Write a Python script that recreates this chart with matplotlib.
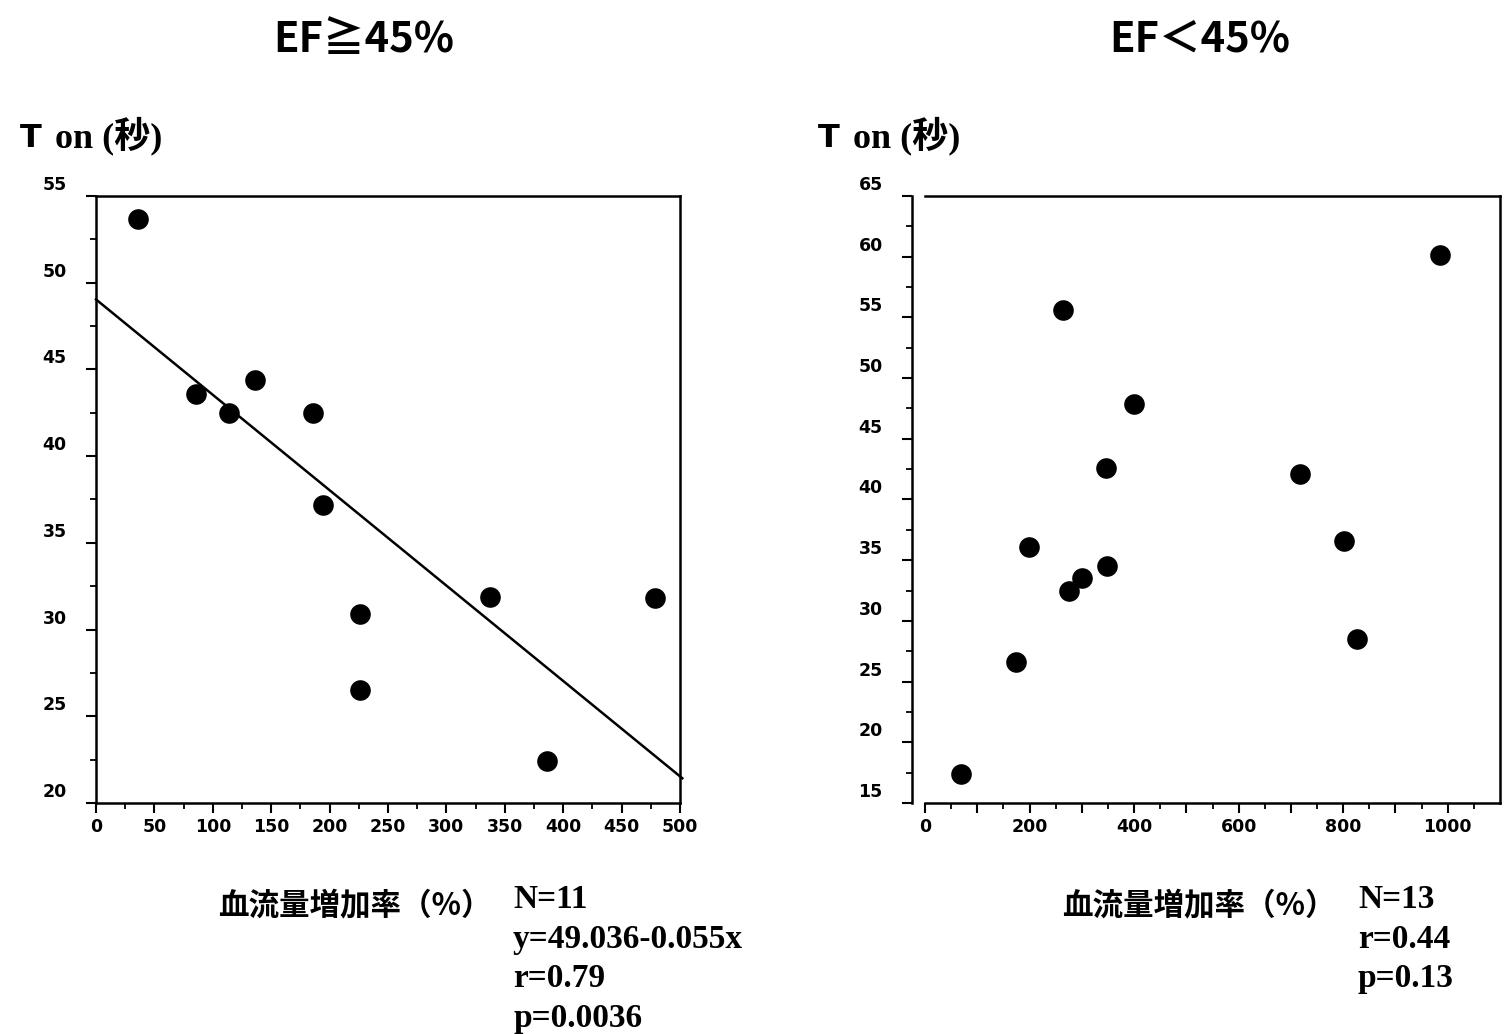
import matplotlib
matplotlib.use('Agg')
import matplotlib.pyplot as plt
import matplotlib.transforms as mtransforms
from matplotlib.ticker import FixedLocator

# ---- data ----
left_x = [36, 86, 114, 136, 186, 194, 226, 226, 337, 386, 479]
left_y = [53.7, 43.6, 42.5, 44.4, 42.5, 37.2, 30.9, 26.5, 31.9, 22.4, 31.8]
fit_intercept = 49.036
fit_slope = -0.055

right_x = [69, 174, 198, 264, 275, 300, 347, 348, 400, 717, 802, 827, 985]
right_y = [17.4, 26.6, 36.1, 55.6, 32.5, 33.5, 42.6, 34.5, 47.9, 42.1, 36.6, 28.5, 60.1]

left_xticks = [0, 50, 100, 150, 200, 250, 300, 350, 400, 450, 500]
left_yticks = [20, 25, 30, 35, 40, 45, 50, 55]
right_xticks = [0, 100, 200, 300, 400, 500, 600, 700, 800, 900, 1000]
right_yticks = [15, 20, 25, 30, 35, 40, 45, 50, 55, 60, 65]

titles = ['EF≧45%', 'EF＜45%']
ylabel_t = 'T'
ylabel_rest = 'on (秒)'
xlabel = '血流量増加率（%）'
stats_left = 'N=11\ny=49.036-0.055x\nr=0.79\np=0.0036'
stats_right = 'N=13\nr=0.44\np=0.13'

W, H = 1508, 1034
fig = plt.figure(figsize=(W / 100, H / 100), dpi=100)
fig.patch.set_facecolor('white')

tick_font = dict(family=['Liberation Sans Narrow', 'DejaVu Sans'], weight='bold', size=12.5)
cjk = ['Noto Sans CJK JP', 'DejaVu Sans']
serif = ['Liberation Serif', 'Noto Sans CJK JP', 'DejaVu Sans']


def fx(px):
    return px / W


def fy(py):
    return 1 - py / H


def style_axes(ax):
    for s in ax.spines.values():
        s.set_linewidth(1.8)
        s.set_color('black')
    ax.tick_params(which='major', direction='out', length=7, width=1.5, colors='black')
    ax.tick_params(which='minor', direction='out', length=4, width=1.3, colors='black')
    ax.tick_params(axis='y', which='major', pad=14)
    ax.tick_params(axis='x', which='major', pad=4)
    for lab in ax.get_xticklabels() + ax.get_yticklabels():
        lab.set_fontfamily(tick_font['family'])
        lab.set_fontweight(tick_font['weight'])
        lab.set_fontsize(tick_font['size'])
    off = mtransforms.ScaledTranslation(0, 13 / 100, fig.dpi_scale_trans)
    for lab in ax.get_yticklabels():
        lab.set_transform(lab.get_transform() + off)


# ---- left panel ----
axL = fig.add_axes([fx(96), fy(803), fx(680) - fx(96), fy(196) - fy(803)])
axL.set_xlim(0, 500)
axL.set_ylim(20, 55)
axL.scatter(left_x, left_y, s=220, color='black', zorder=3, linewidths=0)
fit_x = [0, 502]
fit_y = [fit_intercept + fit_slope * v for v in fit_x]
axL.plot(fit_x, fit_y, color='black', lw=1.8, clip_on=False)
axL.xaxis.set_major_locator(FixedLocator(left_xticks))
axL.yaxis.set_major_locator(FixedLocator(left_yticks))
axL.xaxis.set_minor_locator(FixedLocator([v + 25 for v in left_xticks[:-1]]))
axL.yaxis.set_minor_locator(FixedLocator([v + 2.5 for v in left_yticks[:-1]]))
axL.set_xticklabels([str(v) for v in left_xticks])
axL.set_yticklabels([str(v) for v in left_yticks])
style_axes(axL)

# ---- right panel ----
axR = fig.add_axes([fx(925), fy(803), fx(1500) - fx(925), fy(196) - fy(803)])
axR.set_xlim(0, 1100)
axR.set_ylim(15, 65)
axR.scatter(right_x, right_y, s=220, color='black', zorder=3, linewidths=0)
axR.spines['left'].set_position(('outward', 9.5))
axR.xaxis.set_major_locator(FixedLocator(right_xticks))
axR.yaxis.set_major_locator(FixedLocator(right_yticks))
axR.xaxis.set_minor_locator(FixedLocator([v + 50 for v in right_xticks]))
axR.yaxis.set_minor_locator(FixedLocator([v + 2.5 for v in right_yticks[:-1]]))
axR.set_xticklabels([str(v) if v % 200 == 0 else '' for v in right_xticks])
axR.set_yticklabels([str(v) for v in right_yticks])
style_axes(axR)

# ---- texts ----
for cx, t in zip([364, 1200], titles):
    fig.text(fx(cx), fy(40), t, ha='center', va='center', family=cjk, size=30, weight='bold')

for x0 in [20, 818]:
    fig.text(fx(x0), fy(147), ylabel_t, ha='left', va='baseline', family=['DejaVu Sans'],
             size=23, weight='bold')
    fig.text(fx(x0 + 35), fy(147), ylabel_rest, ha='left', va='baseline', family=serif,
             size=26, weight='bold')

for x0 in [218, 1062]:
    fig.text(fx(x0), fy(905), xlabel, ha='left', va='center', family=cjk, size=22, weight='bold')

fig.text(fx(513), fy(884), stats_left, ha='left', va='top', family=serif, size=24,
         weight='bold', linespacing=1.36)
fig.text(fx(1358), fy(884), stats_right, ha='left', va='top', family=serif, size=24,
         weight='bold', linespacing=1.36)

fig.savefig('out.png', dpi=100, facecolor='white')
